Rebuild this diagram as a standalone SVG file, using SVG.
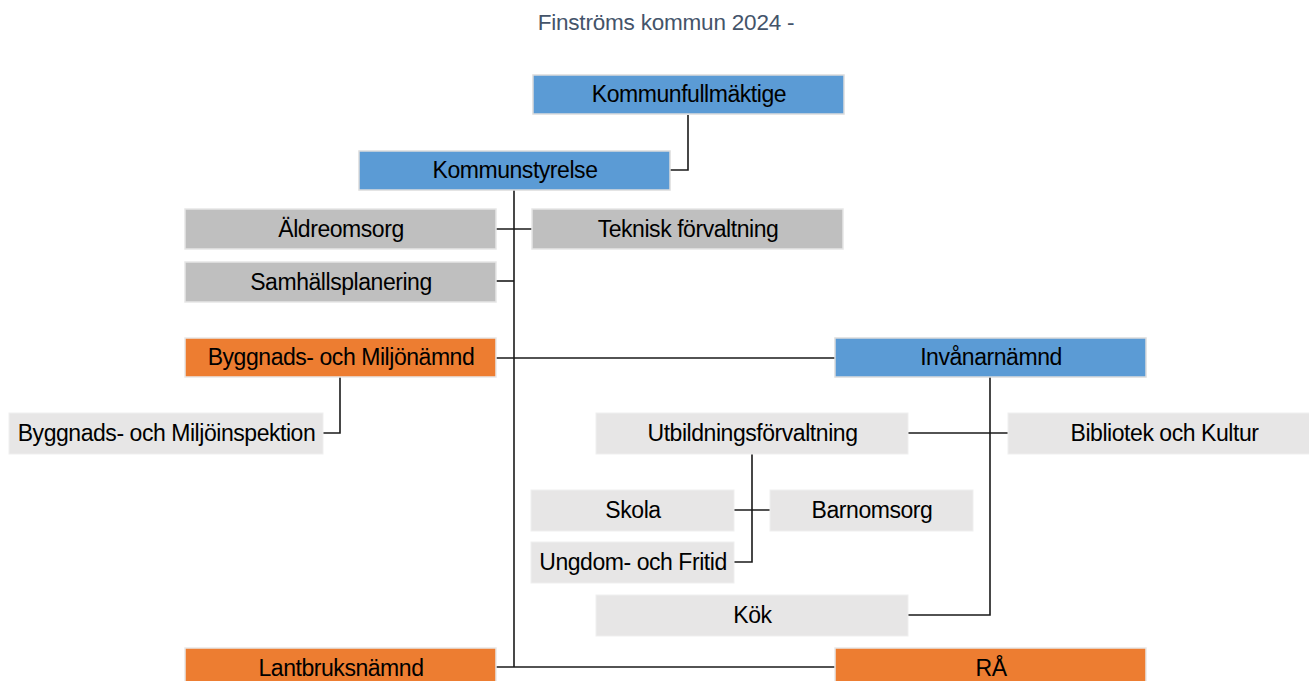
<svg xmlns="http://www.w3.org/2000/svg" width="1309" height="681" viewBox="0 0 1309 681">
<style>
.t{font-family:"Liberation Sans",Arial,sans-serif;font-size:23px;fill:#000;text-anchor:middle;letter-spacing:-0.45px}
.title{font-family:"Liberation Sans",Arial,sans-serif;font-size:22.5px;fill:#44546A;text-anchor:middle;letter-spacing:-0.2px}
.blue{fill:#5B9BD5;stroke:#DCDCDC;stroke-width:1.5}
.gray{fill:#BFBFBF;stroke:#E6E6E6;stroke-width:1.5}
.lgray{fill:#E7E6E6;stroke:#EFEFEF;stroke-width:1}
.orange{fill:#ED7D31;stroke:#E8E8E8;stroke-width:1.5}
.c{fill:none;stroke:#1a1a1a;stroke-width:1.6}
</style>
<rect width="1309" height="681" fill="#fff"/>
<text class="title" x="666" y="30">Finströms kommun 2024 -</text>
<g id="connectors">
<polyline class="c" points="688,115 688,170 670,170"/>
<line class="c" x1="514" y1="190" x2="514" y2="667"/>
<line class="c" x1="496" y1="229" x2="532" y2="229"/>
<line class="c" x1="496" y1="281" x2="514" y2="281"/>
<line class="c" x1="496" y1="358" x2="835" y2="358"/>
<line class="c" x1="496" y1="667" x2="835" y2="667"/>
<polyline class="c" points="340,377 340,433 323,433"/>
<polyline class="c" points="990,377 990,615 908,615"/>
<line class="c" x1="908" y1="433" x2="1008" y2="433"/>
<polyline class="c" points="752,454 752,562 734,562"/>
<line class="c" x1="734" y1="510" x2="770" y2="510"/>
</g>
<g id="kommunfullmaktige"><rect class="blue" x="533" y="75" width="311" height="39"/><text class="t" x="689" y="102">Kommunfullmäktige</text></g>
<g id="kommunstyrelse"><rect class="blue" x="359" y="151" width="311" height="39"/><text class="t" x="515" y="178">Kommunstyrelse</text></g>
<g id="aldreomsorg"><rect class="gray" x="185" y="209" width="311" height="40"/><text class="t" x="341" y="236.5">Äldreomsorg</text></g>
<g id="teknisk"><rect class="gray" x="532" y="209" width="311" height="40"/><text class="t" x="688" y="236.5">Teknisk förvaltning</text></g>
<g id="samhallsplanering"><rect class="gray" x="185" y="262" width="311" height="40"/><text class="t" x="341" y="289.5">Samhällsplanering</text></g>
<g id="byggnadsnamnd"><rect class="orange" x="185" y="338" width="311" height="39"/><text class="t" x="341" y="365">Byggnads- och Miljönämnd</text></g>
<g id="invanarnamnd"><rect class="blue" x="835" y="338" width="311" height="39"/><text class="t" x="991" y="365">Invånarnämnd</text></g>
<g id="inspektion"><rect class="lgray" x="9" y="413" width="314" height="41"/><text class="t" x="166.5" y="441">Byggnads- och Miljöinspektion</text></g>
<g id="utbildning"><rect class="lgray" x="596" y="413" width="312" height="41"/><text class="t" x="752.5" y="441">Utbildningsförvaltning</text></g>
<g id="bibliotek"><rect class="lgray" x="1008" y="413" width="312" height="41"/><text class="t" x="1164.5" y="441">Bibliotek och Kultur</text></g>
<g id="skola"><rect class="lgray" x="531" y="490" width="203" height="41"/><text class="t" x="633" y="518">Skola</text></g>
<g id="barnomsorg"><rect class="lgray" x="770" y="490" width="203" height="41"/><text class="t" x="872" y="518">Barnomsorg</text></g>
<g id="ungdom"><rect class="lgray" x="531" y="542" width="203" height="41"/><text class="t" x="633" y="570">Ungdom- och Fritid</text></g>
<g id="kok"><rect class="lgray" x="596" y="595" width="312" height="41"/><text class="t" x="752.5" y="623">Kök</text></g>
<g id="lantbruksnamnd"><rect class="orange" x="185" y="648" width="311" height="40"/><text class="t" x="341" y="675.5">Lantbruksnämnd</text></g>
<g id="ra"><rect class="orange" x="835" y="648" width="311" height="40"/><text class="t" x="991" y="675.5">RÅ</text></g>
</svg>
